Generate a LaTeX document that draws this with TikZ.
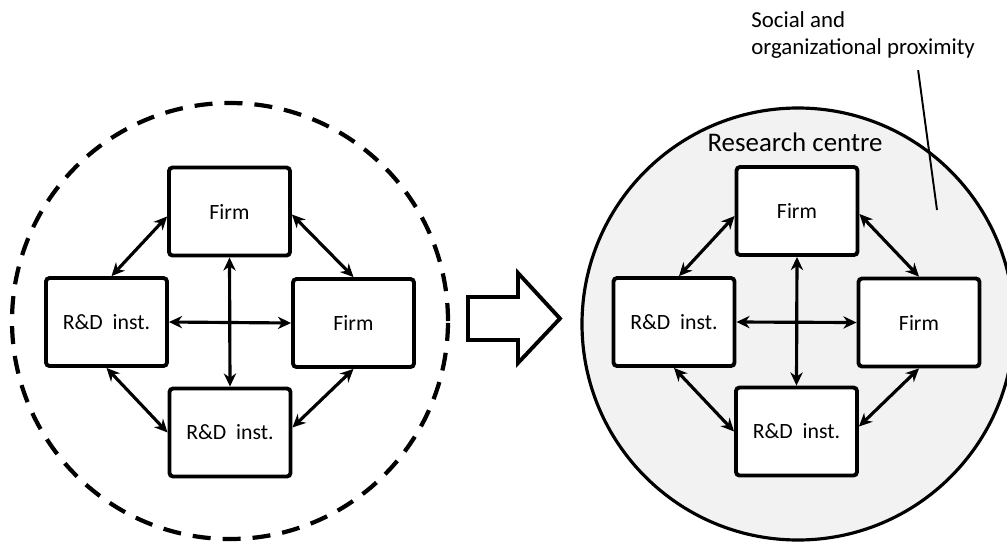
\documentclass[tikz,border=0pt]{standalone}
\usepackage{fontspec}
\setmainfont{Carlito}
\usetikzlibrary{arrows.meta}

\begin{document}
\begin{tikzpicture}[
  unit/.style={draw, line width=2.2pt, rounded corners=2pt, fill=white,
    minimum width=2.42cm, minimum height=1.76cm, inner sep=0pt,
    font=\fontsize{12.4}{15}\selectfont},
  link/.style={line width=1.8pt,
    {Stealth[length=7.5pt,width=7pt]}-{Stealth[length=7.5pt,width=7pt]}},
]
\useasboundingbox (0,0) rectangle (20.14,-10.84);

% before: loose network
\node[draw, circle, line width=2.4pt, dash pattern=on 0.36cm off 0.24cm,
  minimum size=8.72cm, inner sep=0pt] (cluster) at (4.6,-6.42) {};

\node[unit] (f1) at (4.59,-4.23) {Firm};
\node[unit] (d1) at (2.13,-6.44) {R\&D~~inst.};
\node[unit] (f2) at (7.07,-6.46) {Firm};
\node[unit] (d2) at (4.6,-8.65) {R\&D~~inst.};

\draw[link] ([xshift=0.1cm]d1.north) -- ([yshift=-0.1cm]f1.west);
\draw[link] ([yshift=-0.06cm]f1.east) -- (f2.north);
\draw[link] (d1.south) -- (d2.west);
\draw[link] (f2.south) -- ([yshift=0.1cm]d2.east);
\draw[link] (f1.south) -- (d2.north);
\draw[link] (d1.east) -- (f2.west);

% shift
\draw[line width=2.2pt, miter limit=10] (9.36,-5.94) -- (10.36,-5.94) -- (10.36,-5.46)
  -- (11.2,-6.37) -- (10.36,-7.26) -- (10.36,-6.8) -- (9.36,-6.8) -- cycle;

% after: research centre
\node[draw, circle, fill=gray!10, line width=1.8pt,
  minimum size=8.64cm, inner sep=0pt] (centre) at (15.96,-6.48) {};
\node[anchor=base, font=\fontsize{15.3}{18}\selectfont] (rc) at (15.9,-3.02) {Research centre};

\node[unit] (f21) at (15.94,-4.22) {Firm};
\node[unit] (d21) at (13.48,-6.44) {R\&D~~inst.};
\node[unit] (f22) at (18.38,-6.45) {Firm};
\node[unit] (d22) at (15.93,-8.63) {R\&D~~inst.};

\draw[link] ([xshift=0.1cm]d21.north) -- ([yshift=-0.1cm]f21.west);
\draw[link] ([yshift=-0.06cm]f21.east) -- (f22.north);
\draw[link] (d21.south) -- (d22.west);
\draw[link] (f22.south) -- ([yshift=0.1cm]d22.east);
\draw[link] (f21.south) -- (d22.north);
\draw[link] (d21.east) -- (f22.west);

\node[anchor=west, align=left, inner sep=0pt,
  font=\fontsize{13}{15.9}\selectfont] (prox) at (15.02,-0.7)
  {Social and\\organizational proximity};
\coordinate (inside) at (18.74,-4.2);
\draw[line width=1.1pt] ([xshift=1.1cm,yshift=-0.22cm]prox.south) -- (inside);
\end{tikzpicture}
\end{document}
